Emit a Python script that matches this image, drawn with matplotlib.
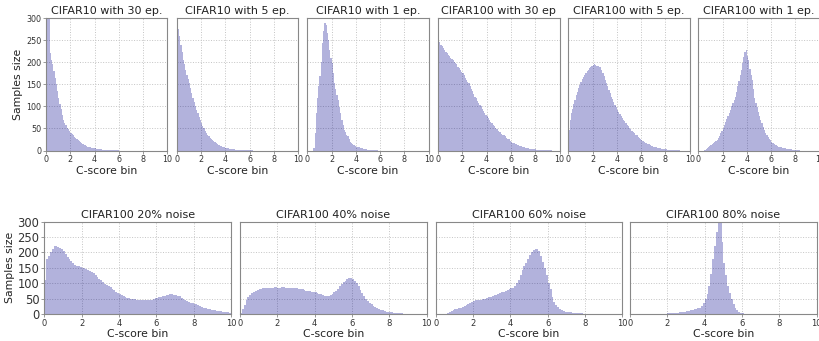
import matplotlib
matplotlib.use("Agg")
import matplotlib.pyplot as plt
import numpy as np

BIN_WIDTH = 0.1

titles_top = ["CIFAR10 with 30 ep.", "CIFAR10 with 5 ep.", "CIFAR10 with 1 ep.",
              "CIFAR100 with 30 ep", "CIFAR100 with 5 ep.", "CIFAR100 with 1 ep."]
titles_bottom = ["CIFAR100 20% noise", "CIFAR100 40% noise",
                 "CIFAR100 60% noise", "CIFAR100 80% noise"]

cifar10_30ep = [400, 350, 310, 220, 205, 195, 180, 165, 150, 135,
                120, 105, 95, 80, 70, 62, 58, 52, 48, 44,
                40, 37, 34, 31, 28, 25, 23, 21, 19, 17,
                15, 13, 12, 11, 9, 8, 7, 6, 6, 5,
                5, 4, 4, 3, 3, 3, 2, 2, 2, 2,
                2, 1, 1, 1, 1, 1, 1, 1, 1, 1]
cifar10_5ep = [290, 275, 260, 240, 222, 205, 195, 183, 172, 162,
               152, 142, 131, 120, 110, 100, 92, 84, 76, 68,
               62, 56, 50, 45, 40, 36, 32, 29, 26, 24,
               22, 19, 17, 15, 13, 12, 10, 9, 8, 7,
               6, 5, 5, 4, 4, 3, 3, 3, 2, 2,
               2, 2, 1, 1, 1, 1, 1, 1, 1, 1,
               1, 1, 1]
cifar10_1ep = [0, 0, 0, 0, 0, 5, 40, 85, 120, 145,
               168, 200, 243, 270, 289, 285, 266, 250, 228, 210,
               198, 175, 153, 140, 125, 115, 98, 84, 70, 58,
               47, 42, 36, 32, 27, 20, 17, 14, 12, 10,
               9, 8, 7, 6, 5, 5, 4, 3, 3, 2,
               2, 2, 1, 1, 1, 1, 1, 1]
cifar100_30ep = [250, 245, 240, 236, 232, 228, 224, 220, 216, 213,
                 210, 207, 204, 201, 198, 195, 190, 186, 182, 178,
                 175, 170, 165, 160, 156, 152, 147, 140, 134, 128,
                 122, 118, 113, 108, 104, 100, 95, 90, 85, 81,
                 77, 73, 69, 65, 62, 58, 55, 51, 48, 45,
                 43, 41, 38, 36, 34, 32, 29, 27, 25, 22,
                 20, 18, 17, 15, 14, 13, 12, 11, 10, 9,
                 8, 7, 6, 5, 5, 4, 4, 3, 3, 3,
                 3, 2, 2, 2, 2, 1, 1, 1, 1, 1,
                 1, 1, 1, 1]
cifar100_5ep = [47, 70, 85, 95, 105, 115, 125, 133, 141, 149,
                156, 162, 167, 172, 176, 179, 183, 187, 190, 192,
                194, 195, 194, 192, 191, 190, 188, 182, 175, 168,
                160, 153, 145, 138, 130, 122, 116, 110, 104, 98,
                92, 87, 83, 78, 74, 70, 66, 62, 58, 55,
                51, 48, 45, 42, 39, 36, 34, 31, 29, 26,
                24, 22, 20, 18, 17, 15, 14, 12, 11, 10,
                9, 8, 7, 6, 6, 5, 4, 4, 3, 3,
                3, 2, 2, 2, 2, 1, 1, 1, 1, 1,
                1, 1]
cifar100_1ep = [0, 0, 0, 0, 0, 2, 4, 6, 8, 10,
                13, 15, 17, 19, 21, 24, 28, 33, 39, 45,
                51, 57, 64, 71, 78, 85, 92, 100, 108, 115,
                122, 133, 145, 158, 170, 183, 198, 212, 224, 228,
                215, 205, 185, 172, 160, 140, 120, 107, 98, 87,
                77, 70, 62, 54, 46, 39, 35, 30, 26, 23,
                20, 17, 15, 13, 12, 11, 9, 8, 7, 6,
                5, 5, 4, 4, 3, 3, 3, 2, 2, 2,
                1, 1, 1, 1]

noise20 = [110, 180, 190, 200, 212, 222, 220, 218, 215, 210,
           205, 195, 185, 178, 172, 165, 160, 157, 155, 152,
           150, 148, 145, 143, 140, 138, 133, 127, 120, 114,
           110, 104, 98, 94, 90, 87, 82, 77, 72, 68,
           65, 62, 59, 56, 53, 51, 50, 49, 48, 47,
           46, 45, 45, 44, 44, 44, 45, 47, 49, 51,
           52, 54, 56, 58, 60, 62, 63, 64, 64, 63,
           62, 60, 57, 53, 49, 45, 42, 39, 37, 35,
           33, 31, 28, 25, 23, 21, 19, 17, 15, 14,
           13, 12, 11, 10, 9, 8, 7, 6, 5, 4]
noise40 = [3, 15, 30, 45, 55, 62, 68, 73, 76, 79,
           81, 82, 83, 84, 85, 86, 86, 86, 87, 87,
           86, 86, 87, 87, 86, 86, 85, 84, 84, 83,
           83, 82, 81, 80, 78, 76, 75, 74, 72, 71,
           70, 68, 66, 64, 62, 60, 59, 60, 63, 66,
           70, 75, 82, 90, 97, 103, 108, 113, 117, 116,
           113, 108, 100, 90, 78, 67, 58, 50, 42, 36,
           31, 26, 22, 19, 16, 14, 12, 10, 8, 7,
           6, 5, 4, 3, 2, 2, 2, 1, 1, 1,
           1, 1]
noise60 = [0, 0, 0, 0, 0, 1, 3, 6, 9, 12,
           15, 17, 19, 21, 23, 26, 29, 32, 35, 38,
           42, 44, 45, 46, 47, 48, 50, 52, 54, 56,
           59, 61, 63, 65, 67, 70, 72, 74, 77, 80,
           83, 86, 90, 100, 112, 128, 142, 155, 167, 180,
           193, 200, 208, 210, 212, 205, 190, 170, 150, 128,
           100, 80, 55, 40, 30, 22, 17, 13, 10, 8,
           7, 6, 5, 4, 3, 3, 2, 2, 2, 1,
           1, 1, 1]
noise80 = [0, 0, 0, 0, 0, 0, 0, 0, 0, 0,
           0, 0, 0, 0, 0, 0, 0, 0, 1, 1,
           2, 2, 3, 3, 3, 4, 5, 6, 7, 8,
           10, 11, 12, 14, 15, 17, 19, 21, 26, 35,
           48, 65, 91, 130, 178, 222, 265, 310, 298, 233,
           167, 128, 91, 68, 48, 32, 21, 13, 7, 4,
           2, 1, 1]

top_data = [cifar10_30ep, cifar10_5ep, cifar10_1ep, cifar100_30ep, cifar100_5ep, cifar100_1ep]
bottom_data = [noise20, noise40, noise60, noise80]

W, H = 820, 341
fig = plt.figure(figsize=(W / 100, H / 100), dpi=100)

BAR_COLOR = "darkblue"
SPINE = "#888888"
TXT = "#333333"


def px_axes(x0, y0, x1, y1):
    return fig.add_axes([x0 / W, 1 - y1 / H, (x1 - x0) / W, (y1 - y0) / H])


def style(ax, vals, title, first, xt_size, yt_size):
    edges = np.arange(len(vals)) * BIN_WIDTH
    ax.bar(edges, vals, width=BIN_WIDTH, align="edge", color=BAR_COLOR,
           alpha=0.3, linewidth=0, zorder=2)
    ax.set_xlim(0, 10)
    ax.set_ylim(0, 300)
    ax.set_xticks([0, 2, 4, 6, 8, 10])
    ax.set_yticks([0, 50, 100, 150, 200, 250, 300])
    ax.grid(True, linestyle=":", color="#c4c4c4", linewidth=0.7, zorder=0)
    ax.set_axisbelow(True)
    for s in ax.spines.values():
        s.set_color(SPINE)
        s.set_linewidth(0.8)
    ax.tick_params(axis="x", labelsize=xt_size, colors=SPINE, labelcolor=TXT,
                   length=2, width=0.6, pad=1.5)
    ax.tick_params(axis="y", labelsize=yt_size, colors=SPINE, labelcolor=TXT,
                   length=2, width=0.6, pad=1.5)
    if not first:
        ax.tick_params(axis="y", labelleft=False, length=0)
    ax.set_title(title, fontsize=8, color="#222222", pad=3)
    ax.set_xlabel("C-score bin", fontsize=7.8, color="#222222", labelpad=1)
    if first:
        ax.set_ylabel("Samples size", fontsize=7.8, color="#222222", labelpad=2)


top_lefts = [46, 176.7, 307.3, 438, 568.3, 698.3]
top_w = 121.5
for i, (x0, vals, t) in enumerate(zip(top_lefts, top_data, titles_top)):
    ax = px_axes(x0, 18, x0 + top_w, 150.5)
    style(ax, vals, t, i == 0, 5.8, 5.8)

bot_lefts = [44.3, 240, 435.7, 630]
bot_w = 186.8
for i, (x0, vals, t) in enumerate(zip(bot_lefts, bottom_data, titles_bottom)):
    ax = px_axes(x0, 221.7, x0 + bot_w, 314)
    style(ax, vals, t, i == 0, 6.0, 8.3)

fig.savefig("out.png", dpi=100)
